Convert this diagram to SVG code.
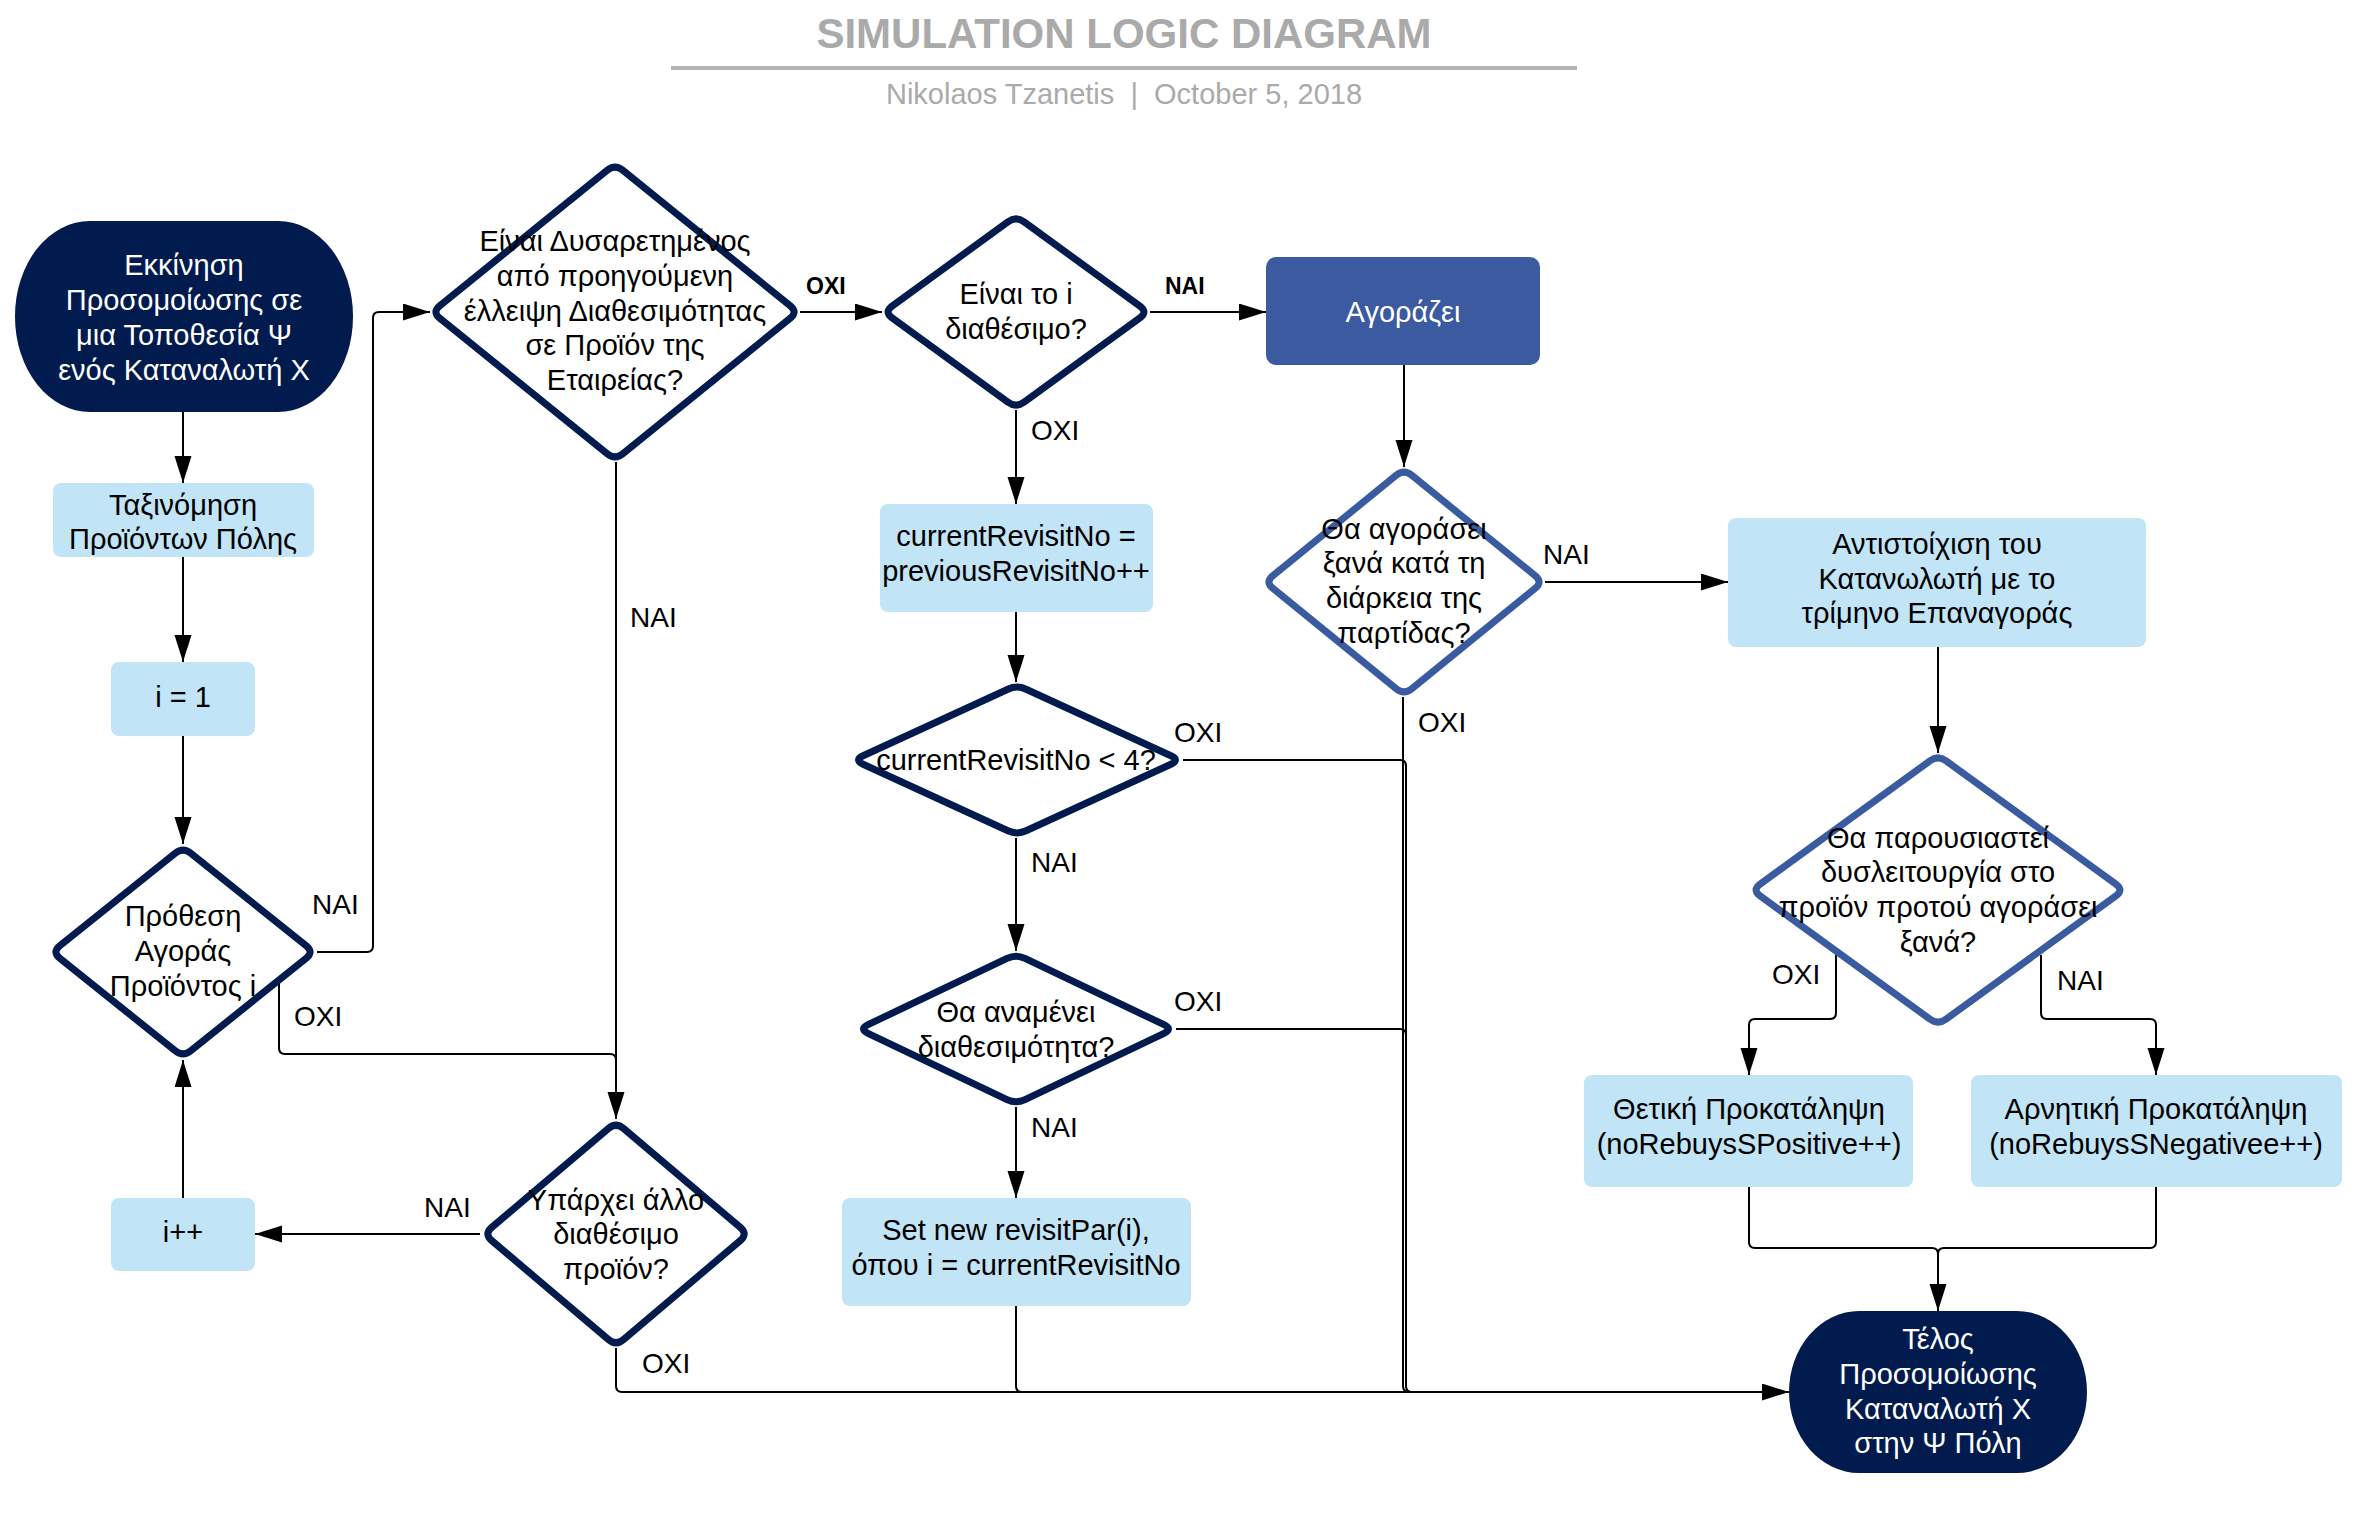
<svg xmlns="http://www.w3.org/2000/svg" width="2375" height="1529" viewBox="0 0 2375 1529">
<defs>
<style>
.t{font-family:"Liberation Sans",Arial,sans-serif;font-size:29px;text-anchor:middle;dominant-baseline:central;fill:#000}
.w{fill:#fff}
.lbl{font-family:"Liberation Sans",Arial,sans-serif;font-size:28px;dominant-baseline:central;fill:#000}
.lblb{font-family:"Liberation Sans",Arial,sans-serif;font-size:23px;font-weight:bold;dominant-baseline:central;fill:#000}
.c{fill:none;stroke:#000;stroke-width:2}
.box{fill:#c1e4f6}
.dia{fill:#fff;stroke:#011b4e;stroke-width:7;stroke-linejoin:round}
.dia.blue{stroke:#3b5ba0}
.term{fill:#011b4e}
</style>
<marker id="ah" markerUnits="userSpaceOnUse" markerWidth="28" markerHeight="18" refX="27" refY="8.5" orient="auto">
<path d="M0,0 L27,8.5 L0,17 Z" fill="#000"/>
</marker>
</defs>
<rect width="2375" height="1529" fill="#fff"/>

<g id="title">
<text x="1124" y="48" font-family="Liberation Sans, Arial, sans-serif" font-size="42" font-weight="bold" fill="#aaaaaa" text-anchor="middle">SIMULATION LOGIC DIAGRAM</text>
<line x1="671" y1="68" x2="1577" y2="68" stroke="#b3b3b3" stroke-width="4"/>
<text x="1124" y="104" font-family="Liberation Sans, Arial, sans-serif" font-size="29" fill="#aaaaaa" text-anchor="middle" xml:space="preserve">Nikolaos Tzanetis  |  October 5, 2018</text>
</g>

<g id="connectors">
<path class="c" d="M183 412 L183 483" marker-end="url(#ah)"/>
<path class="c" d="M183 557 L183 662" marker-end="url(#ah)"/>
<path class="c" d="M183 736 L183 844" marker-end="url(#ah)"/>
<path class="c" d="M317 952 L367 952 Q373 952 373 946 L373 318 Q373 312 379 312 L430 312" marker-end="url(#ah)"/>
<path class="c" d="M279 983 L279 1048 Q279 1054 285 1054 L610 1054 Q616 1054 616 1060 L616 1070"/>
<path class="c" d="M616 462 L616 1119" marker-end="url(#ah)"/>
<path class="c" d="M800 312 L882 312" marker-end="url(#ah)"/>
<path class="c" d="M1150 312 L1266 312" marker-end="url(#ah)"/>
<path class="c" d="M1016 410 L1016 504" marker-end="url(#ah)"/>
<path class="c" d="M1016 612 L1016 682" marker-end="url(#ah)"/>
<path class="c" d="M1016 838 L1016 951" marker-end="url(#ah)"/>
<path class="c" d="M1016 1107 L1016 1198" marker-end="url(#ah)"/>
<path class="c" d="M1183 760 L1400 760 Q1406 760 1406 766 L1406 1386 Q1406 1392 1412 1392 L1500 1392"/>
<path class="c" d="M1176 1029 L1400 1029 Q1406 1029 1406 1035 L1406 1200"/>
<path class="c" d="M1403 697 L1403 1386 Q1403 1392 1409 1392 L1500 1392"/>
<path class="c" d="M1016 1306 L1016 1386 Q1016 1392 1022 1392 L1100 1392"/>
<path class="c" d="M616 1348 L616 1386 Q616 1392 622 1392 L1789 1392" marker-end="url(#ah)"/>
<path class="c" d="M480 1234 L255 1234" marker-end="url(#ah)"/>
<path class="c" d="M183 1198 L183 1060" marker-end="url(#ah)"/>
<path class="c" d="M1404 365 L1404 467" marker-end="url(#ah)"/>
<path class="c" d="M1545 582 L1728 582" marker-end="url(#ah)"/>
<path class="c" d="M1938 647 L1938 753" marker-end="url(#ah)"/>
<path class="c" d="M1836 955 L1836 1013 Q1836 1019 1830 1019 L1755 1019 Q1749 1019 1749 1025 L1749 1075" marker-end="url(#ah)"/>
<path class="c" d="M2041 955 L2041 1013 Q2041 1019 2047 1019 L2150 1019 Q2156 1019 2156 1025 L2156 1075" marker-end="url(#ah)"/>
<path class="c" d="M1749 1187 L1749 1242 Q1749 1248 1755 1248 L1932 1248 Q1938 1248 1938 1254 L1938 1311" marker-end="url(#ah)"/>
<path class="c" d="M2156 1187 L2156 1242 Q2156 1248 2150 1248 L1944 1248 Q1938 1248 1938 1254"/>
</g>

<g id="labels">
<text class="lbl" x="312" y="904">ΝΑΙ</text>
<text class="lbl" x="294" y="1016">ΟΧΙ</text>
<text class="lbl" x="630" y="617">ΝΑΙ</text>
<text class="lblb" x="806" y="286">ΟΧΙ</text>
<text class="lblb" x="1165" y="286">ΝΑΙ</text>
<text class="lbl" x="1031" y="430">ΟΧΙ</text>
<text class="lbl" x="1174" y="732">ΟΧΙ</text>
<text class="lbl" x="1031" y="862">ΝΑΙ</text>
<text class="lbl" x="1174" y="1001">ΟΧΙ</text>
<text class="lbl" x="1031" y="1127">ΝΑΙ</text>
<text class="lbl" x="642" y="1363">ΟΧΙ</text>
<text class="lbl" x="424" y="1207">ΝΑΙ</text>
<text class="lbl" x="1543" y="554">ΝΑΙ</text>
<text class="lbl" x="1418" y="722">ΟΧΙ</text>
<text class="lbl" x="1772" y="974">ΟΧΙ</text>
<text class="lbl" x="2057" y="980">ΝΑΙ</text>
</g>

<g id="start">
<rect class="term" x="15" y="221" width="338" height="191" rx="75" ry="95"/>
<text class="t w" x="184" y="265">Εκκίνηση</text>
<text class="t w" x="184" y="300">Προσομοίωσης σε</text>
<text class="t w" x="184" y="335">μια Τοποθεσία Ψ</text>
<text class="t w" x="184" y="370">ενός Καταναλωτή Χ</text>
</g>

<g id="sort">
<rect class="box" x="53" y="483" width="261" height="74" rx="8"/>
<text class="t" x="183" y="505">Ταξινόμηση</text>
<text class="t" x="183" y="539">Προϊόντων Πόλης</text>
</g>

<g id="i1">
<rect class="box" x="111" y="662" width="144" height="74" rx="8"/>
<text class="t" x="183" y="697">i = 1</text>
</g>

<g id="intent">
<path class="dia" d="M190.8 853.2 L306.2 945.8 Q314 952 306.2 958.2 L190.8 1050.8 Q183 1057 175.2 1050.8 L59.8 958.2 Q52 952 59.8 945.8 L175.2 853.2 Q183 847 190.8 853.2 Z"/>
<text class="t" x="183" y="916">Πρόθεση</text>
<text class="t" x="183" y="951">Αγοράς</text>
<text class="t" x="183" y="986">Προϊόντος i</text>
</g>

<g id="iplus">
<rect class="box" x="111" y="1198" width="144" height="73" rx="8"/>
<text class="t" x="183" y="1232">i++</text>
</g>

<g id="dissatisfied">
<path class="dia" d="M622.8 170.3 L790.2 305.7 Q798 312 790.2 318.3 L622.8 453.7 Q615 460 607.2 453.7 L439.8 318.3 Q432 312 439.8 305.7 L607.2 170.3 Q615 164 622.8 170.3 Z"/>
<text class="t" x="615" y="241">Είναι Δυσαρετημένος</text>
<text class="t" x="615" y="276">από προηγούμενη</text>
<text class="t" x="615" y="311">έλλειψη Διαθεσιμότητας</text>
<text class="t" x="615" y="345">σε Προϊόν της</text>
<text class="t" x="615" y="380">Εταιρείας?</text>
</g>

<g id="another">
<path class="dia" d="M623.6 1128.5 L740.4 1227.5 Q748 1234 740.4 1240.5 L623.6 1339.5 Q616 1346 608.4 1339.5 L491.6 1240.5 Q484 1234 491.6 1227.5 L608.4 1128.5 Q616 1122 623.6 1128.5 Z"/>
<text class="t" x="616" y="1200">Υπάρχει άλλο</text>
<text class="t" x="616" y="1234">διαθέσιμο</text>
<text class="t" x="616" y="1269">προϊόν?</text>
</g>

<g id="available">
<path class="dia" d="M1024.1 221.9 L1139.9 306.1 Q1148 312 1139.9 317.9 L1024.1 402.1 Q1016 408 1007.9 402.1 L892.1 317.9 Q884 312 892.1 306.1 L1007.9 221.9 Q1016 216 1024.1 221.9 Z"/>
<text class="t" x="1016" y="294">Είναι το i</text>
<text class="t" x="1016" y="329">διαθέσιμο?</text>
</g>

<g id="buys">
<rect x="1266" y="257" width="274" height="108" rx="10" fill="#3b5aa0"/>
<text class="t w" x="1403" y="312">Αγοράζει</text>
</g>

<g id="revisit">
<rect class="box" x="880" y="504" width="273" height="108" rx="8"/>
<text class="t" x="1016" y="536">currentRevisitNo =</text>
<text class="t" x="1016" y="571">previousRevisitNo++</text>
</g>

<g id="lessfour">
<path class="dia" d="M1026.1 689.2 L1170.9 755.8 Q1180 760 1170.9 764.2 L1026.1 830.8 Q1017 835 1007.9 830.8 L863.1 764.2 Q854 760 863.1 755.8 L1007.9 689.2 Q1017 685 1026.1 689.2 Z"/>
<text class="t" x="1016" y="760">currentRevisitNo &lt; 4?</text>
</g>

<g id="wait">
<path class="dia" d="M1025 958.3 L1164 1024.7 Q1173 1029 1164 1033.3 L1025 1099.7 Q1016 1104 1007 1099.7 L868 1033.3 Q859 1029 868 1024.7 L1007 958.3 Q1016 954 1025 958.3 Z"/>
<text class="t" x="1016" y="1012">Θα αναμένει</text>
<text class="t" x="1016" y="1047">διαθεσιμότητα?</text>
</g>

<g id="setnew">
<rect class="box" x="842" y="1198" width="349" height="108" rx="8"/>
<text class="t" x="1016" y="1230">Set new revisitPar(i),</text>
<text class="t" x="1016" y="1265">όπου i = currentRevisitNo</text>
</g>

<g id="rebuy">
<path class="dia blue" d="M1411.8 475.3 L1535.2 575.7 Q1543 582 1535.2 588.3 L1411.8 688.7 Q1404 695 1396.2 688.7 L1272.8 588.3 Q1265 582 1272.8 575.7 L1396.2 475.3 Q1404 469 1411.8 475.3 Z"/>
<text class="t" x="1404" y="529">Θα αγοράσει</text>
<text class="t" x="1404" y="563">ξανά κατά τη</text>
<text class="t" x="1404" y="598">διάρκεια της</text>
<text class="t" x="1404" y="633">παρτίδας?</text>
</g>

<g id="match">
<rect class="box" x="1728" y="518" width="418" height="129" rx="8"/>
<text class="t" x="1937" y="544">Αντιστοίχιση του</text>
<text class="t" x="1937" y="579">Κατανωλωτή με το</text>
<text class="t" x="1937" y="613">τρίμηνο Επαναγοράς</text>
</g>

<g id="malfunction">
<path class="dia blue" d="M1946.1 760.9 L2115.9 884.1 Q2124 890 2115.9 895.9 L1946.1 1019.1 Q1938 1025 1929.9 1019.1 L1760.1 895.9 Q1752 890 1760.1 884.1 L1929.9 760.9 Q1938 755 1946.1 760.9 Z"/>
<text class="t" x="1938" y="838">Θα παρουσιαστεί</text>
<text class="t" x="1938" y="872">δυσλειτουργία στο</text>
<text class="t" x="1938" y="907">προϊόν προτού αγοράσει</text>
<text class="t" x="1938" y="942">ξανά?</text>
</g>

<g id="positive">
<rect class="box" x="1584" y="1075" width="329" height="112" rx="8"/>
<text class="t" x="1749" y="1109">Θετική Προκατάληψη</text>
<text class="t" x="1749" y="1144">(noRebuysSPositive++)</text>
</g>

<g id="negative">
<rect class="box" x="1971" y="1075" width="371" height="112" rx="8"/>
<text class="t" x="2156" y="1109">Αρνητική Προκατάληψη</text>
<text class="t" x="2156" y="1144">(noRebuysSNegativee++)</text>
</g>

<g id="end">
<rect class="term" x="1789" y="1311" width="298" height="162" rx="70" ry="81"/>
<text class="t w" x="1938" y="1339">Τέλος</text>
<text class="t w" x="1938" y="1374">Προσομοίωσης</text>
<text class="t w" x="1938" y="1409">Καταναλωτή Χ</text>
<text class="t w" x="1938" y="1443">στην Ψ Πόλη</text>
</g>
</svg>
